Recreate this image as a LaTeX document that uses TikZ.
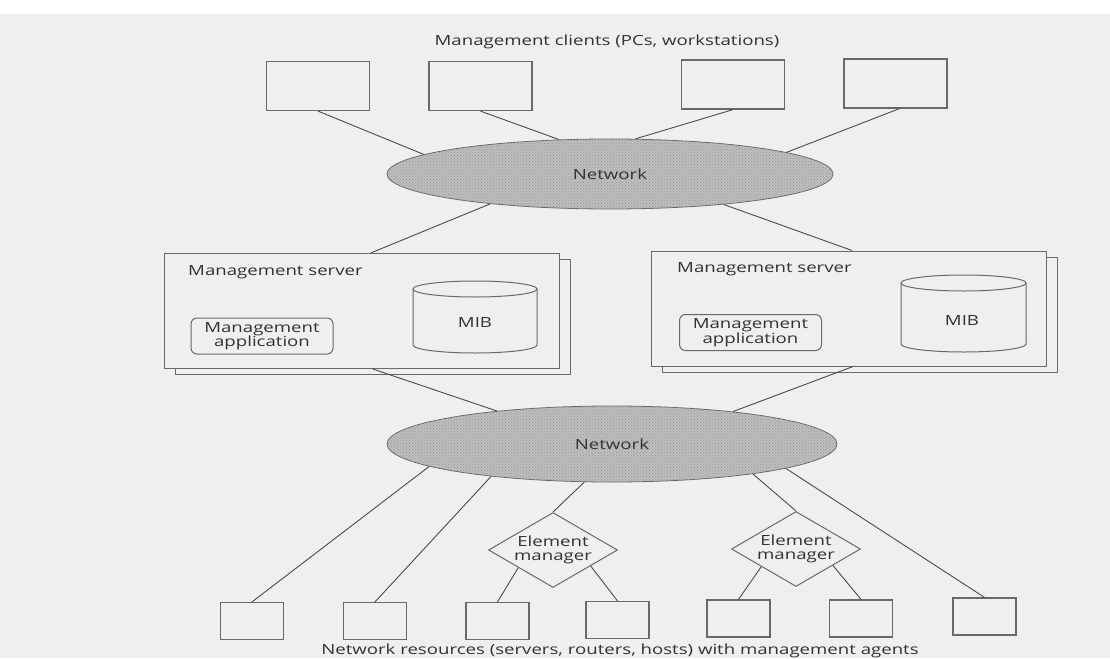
\documentclass[tikz,border=0pt]{standalone}
\usepackage{fontspec}
\setmainfont{Open Sans}
\usepackage{graphicx}
\usetikzlibrary{shapes.geometric,patterns}

\definecolor{paper}{RGB}{239,239,239}
\definecolor{ink}{RGB}{75,75,75}
\definecolor{edge}{RGB}{105,105,105}
\definecolor{cloud}{RGB}{190,190,190}
\definecolor{dotgray}{RGB}{150,150,150}
\definecolor{txt}{RGB}{50,50,50}

% labels are set slightly wide
\newcommand\wtxt[1]{\scalebox{1.33}[1]{#1}}

\begin{document}
\begin{tikzpicture}[x=1pt,y=-1pt,
  font=\fontsize{14}{14.5}\selectfont, text=txt,
  term/.style={draw=edge, line width=1.2pt, minimum width=103pt, minimum height=49pt, inner sep=0pt},
  res/.style={draw=edge, line width=1.2pt, minimum width=63pt, minimum height=37pt, inner sep=0pt},
  net/.style={ellipse, draw=edge, line width=0.8pt, fill=cloud,
    postaction={pattern=crosshatch dots, pattern color=dotgray}, inner sep=0pt},
  srv/.style={draw=edge, line width=1pt, fill=paper, minimum width=395pt, minimum height=115pt, inner sep=0pt},
  app/.style={draw=edge, line width=1pt, rounded corners=6pt, minimum width=142pt, minimum height=36pt, inner sep=0pt, align=center},
  em/.style={diamond, draw=edge, line width=1pt, aspect=1.72, minimum width=129pt, minimum height=75pt, inner sep=0pt, align=center, fill=paper},
  drum/.style={draw=edge, line width=1pt},
  link/.style={draw=ink, line width=0.9pt}]

% page
\fill[white] (0,0) rectangle (1110,658);
\fill[paper] (0,14) rectangle (1110,658);
\useasboundingbox (0,0) rectangle (1110,658);

% captions
\node (cap1) at (607,42) {\wtxt{Management clients (PCs, workstations)}};
\node (cap2) at (620,651) {\wtxt{Network resources (servers, routers, hosts) with management agents}};

% management clients
\node[term] (t1) at (318,86) {};
\node[term] (t2) at (480.5,86) {};
\node[term] (t3) at (733,84.5) {};
\node[term] (t4) at (895.5,83.5) {};

% networks
\node[net, minimum width=446pt, minimum height=70pt] (n1) at (610,174) {};
\node (n1t) at (n1.center) {\wtxt{Network}};
\node[net, minimum width=450pt, minimum height=76pt] (n2) at (612,444) {};
\node (n2t) at (n2.center) {\wtxt{Network}};

% management servers (stacked sheets)
\node[srv] (sLb) at (372.5,317) {};
\node[srv] (sL) at (361.5,311) {};
\node[srv] (sRb) at (860,314.5) {};
\node[srv] (sR) at (849,308.5) {};

\node[anchor=west, inner sep=0pt] (sLt) at (188,272) {\wtxt{Management server}};
\node[anchor=west, inner sep=0pt] (sRt) at (677,269) {\wtxt{Management server}};

\node[app] (aL) at (262,336) {\wtxt{Management}\\\wtxt{application}};
\node[app] (aR) at (750.5,332.5) {\wtxt{Management}\\\wtxt{application}};

% MIB drums
\draw[drum] (413,289) -- (413,345) arc[start angle=180, end angle=0, x radius=62, y radius=8] -- (537,289);
\draw[drum] (475,289) ellipse[x radius=62, y radius=8];
\node (mL) at (475,322) {\wtxt{MIB}};
\draw[drum] (901,283) -- (901,344) arc[start angle=180, end angle=0, x radius=62.5, y radius=8] -- (1026,283);
\draw[drum] (963.5,283) ellipse[x radius=62.5, y radius=8];
\node (mR) at (962,320) {\wtxt{MIB}};

% element managers
\node[em] (d1) at (553,550) {\wtxt{Element}\\\wtxt{manager}};
\node[em] (d2) at (796,549) {\wtxt{Element}\\\wtxt{manager}};

% network resources
\node[res] (b1) at (252,621) {};
\node[res] (b2) at (375,621) {};
\node[res] (b3) at (497.5,621) {};
\node[res] (b4) at (617.5,620) {};
\node[res] (b5) at (738.5,618.5) {};
\node[res] (b6) at (861,618.5) {};
\node[res] (b7) at (984.5,616.5) {};

% links
\draw[link] (t1.south) -- (n1.174.2);
\draw[link] (t2.south) -- (n1.146.8);
\draw[link] (t3.south) -- (n1.54.5);
\draw[link] ([xshift=4pt]t4.south) -- (n1.7.1);
\draw[link] (n1.194.6) -- (sL.81.5);
\draw[link] (n1.345.9) -- (sR.87);
\draw[link] (sL.281.4) -- (n2.164.2);
\draw[link] (sR.274) -- (n2.15.8);
\draw[link] (n2.187.8) -- (b1.north);
\draw[link] (n2.195.9) -- (b2.north);
\draw[link] (n2.234.4) -- (d1.north);
\draw[link] (d1.207.2) -- (b3.north);
\draw[link] (d1.337) -- (b4.north);
\draw[link] (n2.348.1) -- (d2.north);
\draw[link] (d2.207.8) -- (b5.north);
\draw[link] (d2.336) -- (b6.north);
\draw[link] (n2.352.5) -- (b7.north);
\end{tikzpicture}
\end{document}
